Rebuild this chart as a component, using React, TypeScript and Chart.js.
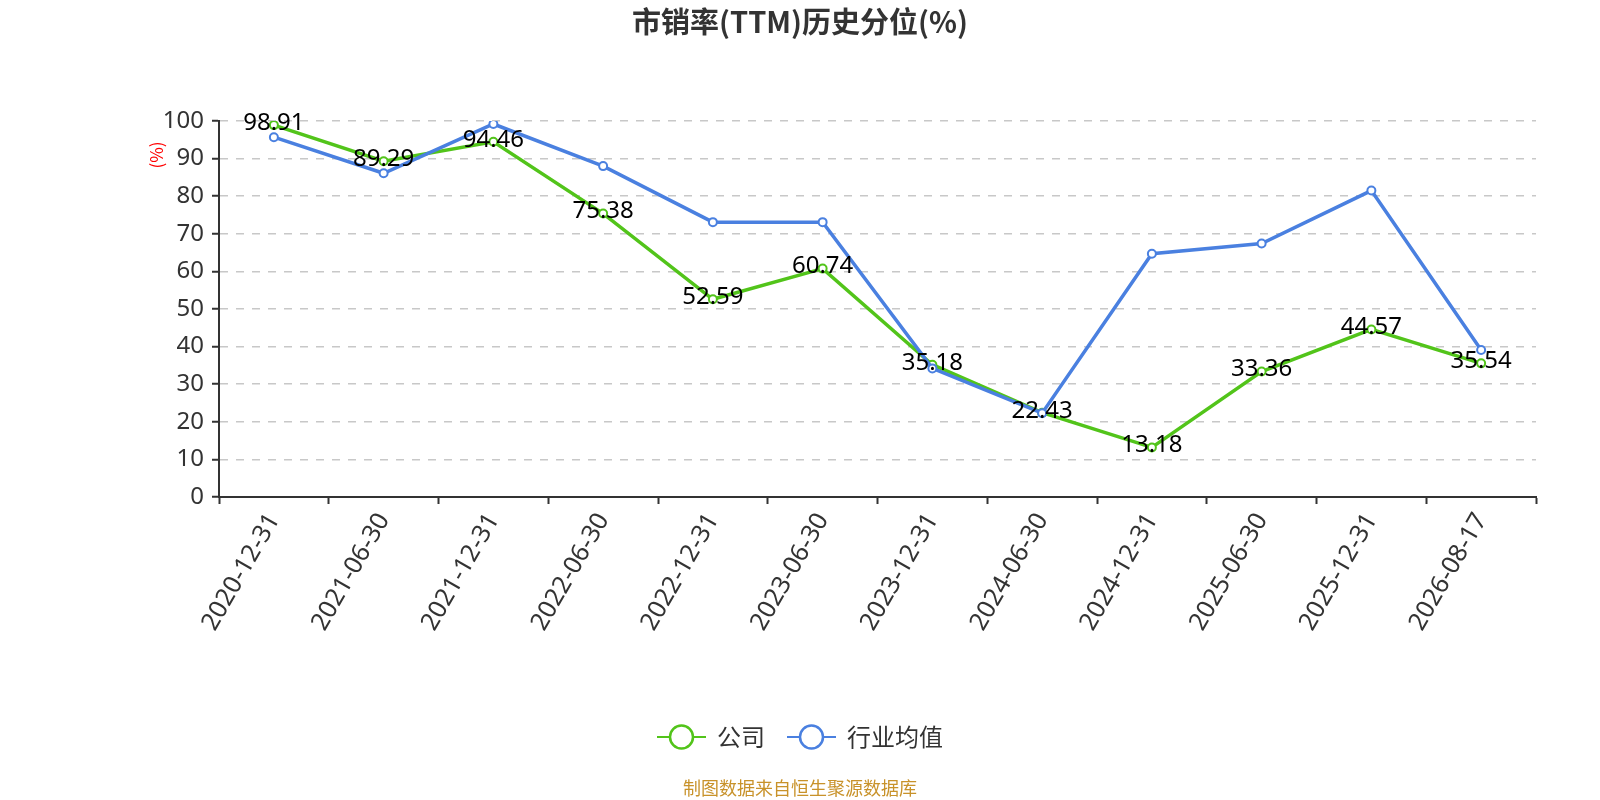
import React, { useEffect, useRef } from 'react';
import { Chart, registerables } from 'chart.js';

Chart.register(...registerables);

const categories = [
  '2020-12-31', '2021-06-30', '2021-12-31', '2022-06-30', '2022-12-31', '2023-06-30',
  '2023-12-31', '2024-06-30', '2024-12-31', '2025-06-30', '2025-12-31', '2026-08-17',
];
const companyValues = [98.91, 89.29, 94.46, 75.38, 52.59, 60.74, 35.18, 22.43, 13.18, 33.36, 44.57, 35.54];
const industryValues = [95.7, 86.1, 99.2, 88.0, 73.1, 73.1, 34.2, 22.3, 64.7, 67.4, 81.5, 39.1];
const yMin = 0;
const yMax = 100;
const yStep = 10;
const seriesNames = ['公司', '行业均值'];
const titleText = '市销率(TTM)历史分位(%)';
const yAxisTitle = '(%)';
const sourceText = '制图数据来自恒生聚源数据库';

const GREEN = '#52c41a';
const BLUE = '#4a80e0';
const NUM_FONT = '"Noto Sans", "Noto Sans CJK SC", sans-serif';
const CJK_FONT = '"Noto Sans CJK SC", "Noto Sans", sans-serif';

const decorPlugin = {
  id: 'decor',
  afterDatasetsDraw(chart: any) {
    const ctx = chart.ctx;
    const meta = chart.getDatasetMeta(0);
    ctx.save();
    ctx.font = `24px ${NUM_FONT}`;
    ctx.fillStyle = '#000';
    ctx.textAlign = 'center';
    ctx.textBaseline = 'middle';
    meta.data.forEach((pt: any, i: number) => {
      ctx.fillText(companyValues[i].toFixed(2), pt.x, pt.y - 2);
    });
    ctx.restore();
  },
  afterDraw(chart: any) {
    const ctx = chart.ctx;
    ctx.save();
    // title
    ctx.font = `bold 29px ${CJK_FONT}`;
    ctx.fillStyle = '#333';
    ctx.textAlign = 'center';
    ctx.textBaseline = 'middle';
    ctx.fillText(titleText, 800, 22);

    // y axis title
    ctx.save();
    ctx.translate(157, 155);
    ctx.rotate(-Math.PI / 2);
    ctx.font = `17px ${CJK_FONT}`;
    ctx.fillStyle = '#ff0000';
    ctx.textAlign = 'center';
    ctx.textBaseline = 'middle';
    ctx.fillText(yAxisTitle, 0, 0);
    ctx.restore();

    // legend
    const colors = [GREEN, BLUE];
    ctx.font = `24px ${CJK_FONT}`;
    const symW = 49;
    const gapText = 11;
    const gapItem = 22;
    const widths = seriesNames.map((n) => ctx.measureText(n).width);
    const total = widths.reduce((a, w) => a + symW + gapText + w, 0) + gapItem * (seriesNames.length - 1);
    let x = 800 - total / 2;
    const ly = 737;
    seriesNames.forEach((name, i) => {
      ctx.strokeStyle = colors[i];
      ctx.lineWidth = 2;
      ctx.beginPath();
      ctx.moveTo(x, ly);
      ctx.lineTo(x + symW, ly);
      ctx.stroke();
      ctx.beginPath();
      ctx.arc(x + symW / 2, ly, 11.5, 0, Math.PI * 2);
      ctx.fillStyle = '#fff';
      ctx.fill();
      ctx.lineWidth = 2.5;
      ctx.stroke();
      ctx.fillStyle = '#333';
      ctx.textAlign = 'left';
      ctx.textBaseline = 'middle';
      ctx.fillText(name, x + symW + gapText, ly);
      x += symW + gapText + widths[i] + gapItem;
    });

    // source
    ctx.font = `18px ${CJK_FONT}`;
    ctx.fillStyle = '#c8922a';
    ctx.textAlign = 'center';
    ctx.textBaseline = 'middle';
    ctx.fillText(sourceText, 800, 788);
    ctx.restore();
  },
};

export default function App() {
  const canvasRef = useRef<HTMLCanvasElement | null>(null);

  useEffect(() => {
    document.body.style.margin = '0';
    const canvas = canvasRef.current;
    if (!canvas) return;
    const chart = new Chart(canvas, {
      type: 'line',
      data: {
        labels: categories,
        datasets: [
          {
            label: seriesNames[0],
            data: companyValues,
            borderColor: GREEN,
            backgroundColor: '#fff',
            borderWidth: 3.5,
            pointRadius: 4,
            pointBorderWidth: 2,
            pointBackgroundColor: '#fff',
            pointBorderColor: GREEN,
            tension: 0,
            order: 2,
          },
          {
            label: seriesNames[1],
            data: industryValues,
            borderColor: BLUE,
            backgroundColor: '#fff',
            borderWidth: 3.5,
            pointRadius: 4,
            pointBorderWidth: 2,
            pointBackgroundColor: '#fff',
            pointBorderColor: BLUE,
            tension: 0,
            order: 1,
          },
        ],
      },
      options: {
        responsive: false,
        animation: false,
        devicePixelRatio: 1,
        layout: { padding: { left: 159, right: 64, top: 121, bottom: 153 } },
        plugins: {
          legend: { display: false },
          title: { display: false },
          tooltip: { enabled: false },
        },
        scales: {
          x: {
            offset: true,
            grid: {
              display: true,
              offset: true,
              drawOnChartArea: false,
              drawTicks: true,
              tickLength: 7,
              tickColor: '#333',
              tickWidth: 2,
            },
            border: { display: true, color: '#333', width: 2 },
            ticks: {
              autoSkip: false,
              maxRotation: 60,
              minRotation: 60,
              padding: 4,
              color: '#333',
              font: { size: 25, family: NUM_FONT },
            },
            afterFit(scale: any) {
              scale.height = 150;
            },
          },
          y: {
            min: yMin,
            max: yMax,
            grid: {
              color: '#c8c8c8',
              lineWidth: 1.5,
              tickColor: '#333',
              tickLength: 7,
              tickWidth: 2,
              tickBorderDash: [],
            },
            border: { display: true, color: '#333', width: 2, dash: [8, 8] },
            ticks: {
              stepSize: yStep,
              padding: 8,
              color: '#333',
              font: { size: 24, family: NUM_FONT },
            },
            afterFit(scale: any) {
              scale.width = 60;
            },
          },
        },
      },
      plugins: [decorPlugin],
    });
    return () => chart.destroy();
  }, []);

  return (
    <div style={{ width: 1600, height: 800, background: '#fff' }}>
      <canvas ref={canvasRef} width={1600} height={800} style={{ display: 'block' }} />
    </div>
  );
}
